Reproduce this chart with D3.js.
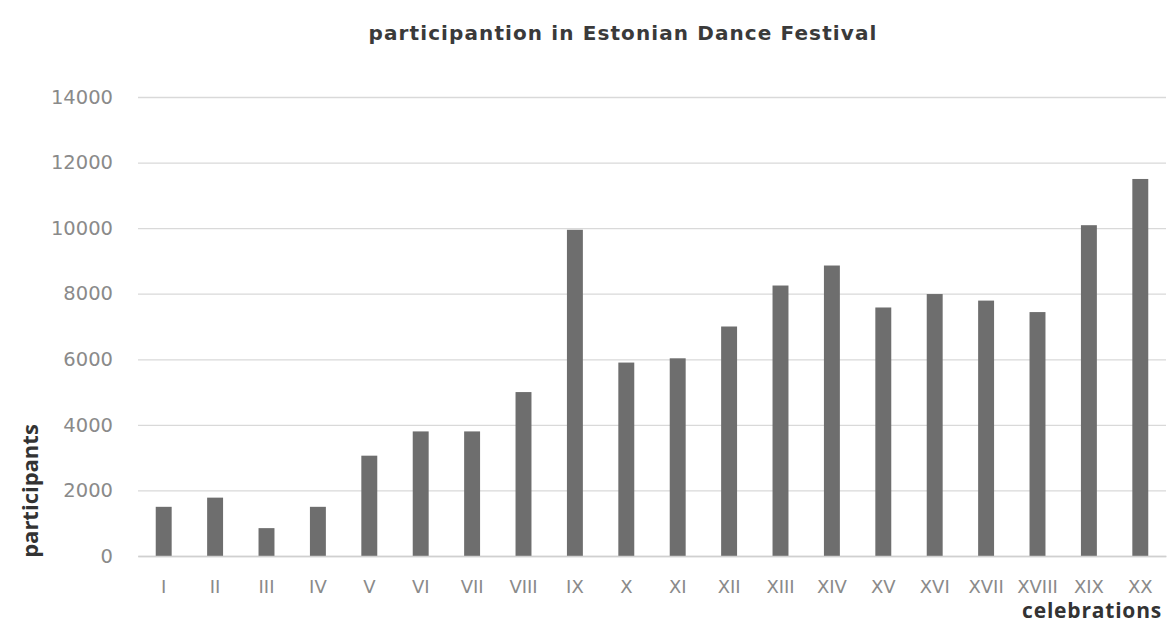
<!DOCTYPE html>
<html>
<head>
<meta charset="utf-8">
<script src="https://cdn.jsdelivr.net/npm/d3@7"></script>
<style>
  html, body { margin: 0; padding: 0; background: #fff; }
  svg { display: block; font-family: "DejaVu Sans", "Open Sans", sans-serif; }
</style>
</head>
<body>
<div id="chart"></div>
<script>
// participation in Estonian Dance Festival, by celebration
const celebrations = ['I', 'II', 'III', 'IV', 'V', 'VI', 'VII', 'VIII', 'IX', 'X',
  'XI', 'XII', 'XIII', 'XIV', 'XV', 'XVI', 'XVII', 'XVIII', 'XIX', 'XX'];
const participants = [1500, 1780, 850, 1500, 3060, 3800, 3800, 5000, 9950, 5900,
  6030, 7000, 8250, 8860, 7580, 7990, 7790, 7440, 10090, 11500];
const yTicks = [0, 2000, 4000, 6000, 8000, 10000, 12000, 14000];

const W = 1167, H = 626;
const M = { top: 97, right: 1, bottom: 70, left: 138 };
const iw = W - M.left - M.right, ih = H - M.top - M.bottom;
const FONT = '"DejaVu Sans", sans-serif';

const svg = d3.select('#chart').append('svg')
  .attr('width', W).attr('height', H);

const g = svg.append('g').attr('transform', `translate(${M.left},${M.top})`);

const x = d3.scaleBand().domain(celebrations).range([0, iw]).paddingInner(0.69).paddingOuter(0.345);
const y = d3.scaleLinear().domain([0, 14000]).range([ih, 0]);

// grid
g.append('g')
  .call(d3.axisLeft(y).tickValues(yTicks).tickSize(-iw).tickFormat(''))
  .call(a => a.select('.domain').remove())
  .call(a => a.selectAll('line').attr('stroke', '#d9d9d9').attr('stroke-width', 1.3));

// y tick labels
g.append('g')
  .call(d3.axisLeft(y).tickValues(yTicks).tickSize(0).tickPadding(25).tickFormat(d3.format('d')))
  .attr('font-family', FONT)
  .call(a => a.select('.domain').remove())
  .call(a => a.selectAll('text').attr('fill', '#8a8a8a').attr('font-size', 19.5));

// bars
g.selectAll('.bar').data(celebrations).join('rect')
  .attr('class', 'bar')
  .attr('x', d => x(d))
  .attr('width', x.bandwidth())
  .attr('y', (d, i) => y(participants[i]))
  .attr('height', (d, i) => y(0) - y(participants[i]))
  .attr('fill', '#6e6e6e');

// x axis
g.append('g')
  .attr('transform', `translate(0,${ih})`)
  .call(d3.axisBottom(x).tickSize(0).tickPadding(24))
  .attr('font-family', FONT)
  .call(a => a.select('.domain').attr('stroke', '#d0d0d0').attr('stroke-width', 1.3))
  .call(a => a.selectAll('text').attr('fill', '#8a8a8a').attr('font-size', 18));

// title
svg.append('text')
  .attr('x', 623).attr('y', 40)
  .attr('text-anchor', 'middle')
  .attr('font-size', 20).attr('font-weight', 'bold').attr('fill', '#3a3a3a')
  .attr('letter-spacing', 1.1)
  .text('participantion in Estonian Dance Festival');

// axis titles
svg.append('text')
  .attr('transform', `translate(38,${491}) rotate(-90)`)
  .attr('text-anchor', 'middle')
  .attr('font-family', '"Open Sans", sans-serif')
  .attr('font-size', 22).attr('font-weight', 'bold').attr('fill', '#333')
  .text('participants');

svg.append('text')
  .attr('x', 1162).attr('y', 618)
  .attr('text-anchor', 'end')
  .attr('font-family', '"Open Sans", sans-serif')
  .attr('font-size', 21).attr('font-weight', 'bold').attr('fill', '#333')
  .attr('letter-spacing', 0.8)
  .text('celebrations');
</script>
</body>
</html>
